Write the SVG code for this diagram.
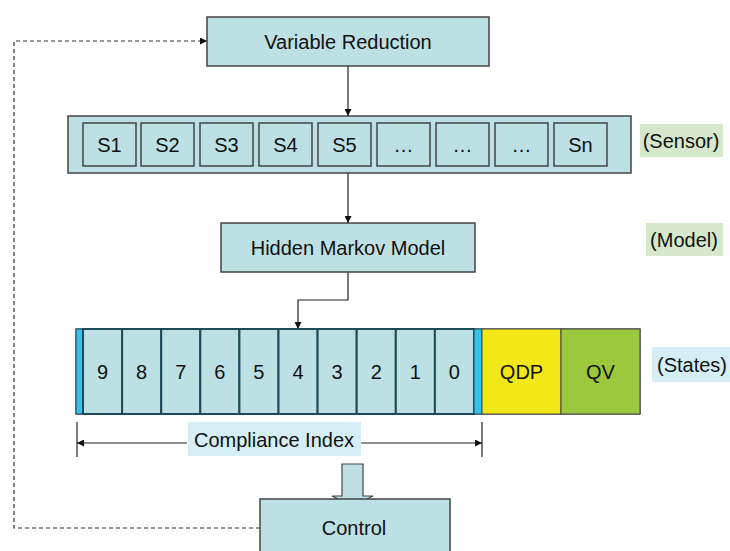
<svg xmlns="http://www.w3.org/2000/svg" width="730" height="551" viewBox="0 0 730 551">
<defs>
<style>
text{font-family:"Liberation Sans",Arial,sans-serif;font-size:20px;fill:#111;text-anchor:middle;dominant-baseline:central}
.box{fill:#bde0e4;stroke:#444;stroke-width:1.5}
.cell{fill:#bde0e4;stroke:#1c4a58;stroke-width:2}
.strip{fill:#35c1ec;stroke:#1c4a58;stroke-width:1}
.ln{fill:none;stroke:#222;stroke-width:1.2}
.dash{fill:none;stroke:#333;stroke-width:1.2;stroke-dasharray:4,3}
.gl{fill:#d5e8cc}
.bl{fill:#d5eef5}
</style>
<marker id="ah" viewBox="0 0 10 10" refX="10" refY="5" markerWidth="7" markerHeight="7" orient="auto" markerUnits="userSpaceOnUse"><path d="M0,0L10,5L0,10z" fill="#111"/></marker>
</defs>
<g id="connectors">
<line class="ln" x1="348" y1="66" x2="348" y2="116" marker-end="url(#ah)"/>
<line class="ln" x1="348" y1="173" x2="348" y2="223" marker-end="url(#ah)"/>
<polyline class="ln" points="348,272 348,300 298,300 298,329" marker-end="url(#ah)"/>
<polyline class="dash" points="260,528 14,528 14,41 207,41" marker-end="url(#ah)"/>
<line class="ln" x1="77" y1="422" x2="77" y2="457"/>
<line class="ln" x1="482" y1="422" x2="482" y2="457"/>
<line class="ln" x1="187" y1="443" x2="77" y2="443" marker-end="url(#ah)"/>
<line class="ln" x1="361" y1="443" x2="482" y2="443" marker-end="url(#ah)"/>
<path id="blockarrow" d="M342,464H363V496H373L353,506L332,496H342Z" fill="#bde0e4" stroke="#444" stroke-width="1.2"/>
</g>
<g id="variable-reduction"><rect class="box" x="207" y="17" width="282" height="49"/><text x="348" y="42">Variable Reduction</text></g>
<g id="sensors">
<rect class="box" x="68" y="116" width="563" height="57"/>
<rect class="box" x="83" y="123" width="53" height="43"/><text x="109.5" y="145">S1</text>
<rect class="box" x="141" y="123" width="53" height="43"/><text x="167.5" y="145">S2</text>
<rect class="box" x="200" y="123" width="53" height="43"/><text x="226.5" y="145">S3</text>
<rect class="box" x="259" y="123" width="53" height="43"/><text x="285.5" y="145">S4</text>
<rect class="box" x="318" y="123" width="53" height="43"/><text x="344.5" y="145">S5</text>
<rect class="box" x="377" y="123" width="53" height="43"/><text x="403.5" y="145">…</text>
<rect class="box" x="436" y="123" width="53" height="43"/><text x="462.5" y="145">…</text>
<rect class="box" x="495" y="123" width="53" height="43"/><text x="521.5" y="145">…</text>
<rect class="box" x="554" y="123" width="53" height="43"/><text x="580.5" y="145">Sn</text>
</g>
<g id="sensor-label"><rect class="gl" x="640" y="124" width="83" height="33"/><text x="681" y="141">(Sensor)</text></g>
<g id="hmm"><rect class="box" x="221" y="223" width="254" height="49"/><text x="348" y="248">Hidden Markov Model</text></g>
<g id="model-label"><rect class="gl" x="646" y="223" width="77" height="33"/><text x="684" y="240">(Model)</text></g>
<g id="states">
<rect x="76" y="329" width="564" height="85" fill="none" stroke="#444" stroke-width="1.2"/>
<rect class="strip" x="76" y="329" width="7" height="85"/>
<rect class="cell" x="83" y="329" width="39.1" height="85"/><text x="102.5" y="372">9</text>
<rect class="cell" x="122.1" y="329" width="39.1" height="85"/><text x="141.6" y="372">8</text>
<rect class="cell" x="161.2" y="329" width="39.1" height="85"/><text x="180.7" y="372">7</text>
<rect class="cell" x="200.3" y="329" width="39.1" height="85"/><text x="219.8" y="372">6</text>
<rect class="cell" x="239.4" y="329" width="39.1" height="85"/><text x="258.9" y="372">5</text>
<rect class="cell" x="278.5" y="329" width="39.1" height="85"/><text x="298" y="372">4</text>
<rect class="cell" x="317.6" y="329" width="39.1" height="85"/><text x="337.1" y="372">3</text>
<rect class="cell" x="356.7" y="329" width="39.1" height="85"/><text x="376.2" y="372">2</text>
<rect class="cell" x="395.8" y="329" width="39.1" height="85"/><text x="415.3" y="372">1</text>
<rect class="cell" x="434.9" y="329" width="39.1" height="85"/><text x="454.4" y="372">0</text>
<rect class="strip" x="474" y="329" width="8" height="85"/>
<rect x="482" y="329" width="79" height="85" fill="#f2e818" stroke="#444" stroke-width="1"/><text x="521.5" y="372">QDP</text>
<rect x="561" y="329" width="79" height="85" fill="#9bc83c" stroke="#444" stroke-width="1"/><text x="600.5" y="372">QV</text>
</g>
<g id="states-label"><rect class="bl" x="652" y="347" width="78" height="35"/><text x="692" y="365">(States)</text></g>
<g id="compliance-index"><rect class="bl" x="188" y="422" width="173" height="34"/><text x="274" y="440">Compliance Index</text></g>
<g id="control"><rect class="box" x="260" y="499" width="190" height="60"/><text x="354" y="528">Control</text></g>
</svg>
